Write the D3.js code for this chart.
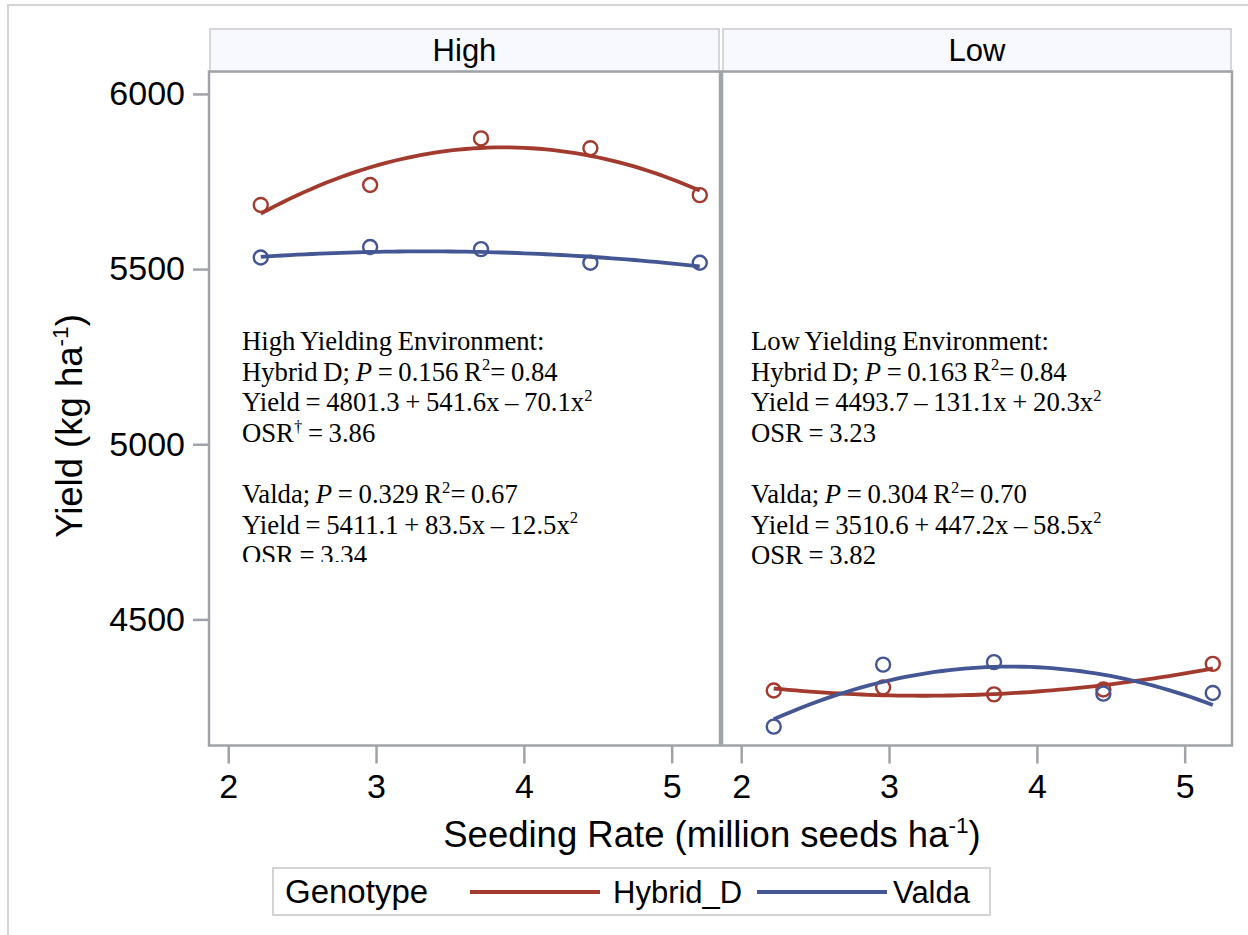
<!DOCTYPE html>
<html>
<head>
<meta charset="utf-8">
<script src="https://cdn.jsdelivr.net/npm/d3@7"></script>
<style>
  body { margin: 0; background: #fff; }
  svg { display: block; }
</style>
</head>
<body>
<svg id="chart" width="1248" height="935"></svg>
<script>
// ---- data ----
const panels = ["High", "Low"];
const genotypes = ["Hybrid_D", "Valda"];
const seedingRates = [2.22, 2.96, 3.71, 4.45, 5.19];

const highHybridYield = [5683, 5740, 5873, 5845, 5711];
const highValdaYield  = [5533, 5563, 5557, 5518, 5518];
const lowHybridYield  = [4297, 4306, 4286, 4300, 4373];
const lowValdaYield   = [4194, 4371, 4378, 4288, 4290];

// quadratic fit coefficients: yield = b0 + b1*x + b2*x^2
const highHybridFit = [4801.3, 541.6, -70.1];
const highValdaFit  = [5411.1, 83.5, -12.5];
const lowHybridFit  = [4493.7, -131.1, 20.3];
const lowValdaFit   = [3510.6, 447.2, -58.5];

const xTicks = [2, 3, 4, 5];
const yTicks = [4500, 5000, 5500, 6000];

const highNotes = [
  [{t: "High Yielding Environment:"}],
  [{t: "Hybrid D; "}, {t: "P", it: true}, {t: " = 0.156 R"}, {t: "2", sup: true}, {t: "= 0.84"}],
  [{t: "Yield = 4801.3 + 541.6x \u2013 70.1x"}, {t: "2", sup: true}],
  [{t: "OSR"}, {t: "\u2020", sup: true}, {t: " = 3.86"}],
  [],
  [{t: "Valda; "}, {t: "P", it: true}, {t: " = 0.329 R"}, {t: "2", sup: true}, {t: "= 0.67"}],
  [{t: "Yield = 5411.1 + 83.5x \u2013 12.5x"}, {t: "2", sup: true}],
  [{t: "OSR = 3.34"}]
];
const lowNotes = [
  [{t: "Low Yielding Environment:"}],
  [{t: "Hybrid D; "}, {t: "P", it: true}, {t: " = 0.163 R"}, {t: "2", sup: true}, {t: "= 0.84"}],
  [{t: "Yield = 4493.7 \u2013 131.1x + 20.3x"}, {t: "2", sup: true}],
  [{t: "OSR = 3.23"}],
  [],
  [{t: "Valda; "}, {t: "P", it: true}, {t: " = 0.304 R"}, {t: "2", sup: true}, {t: "= 0.70"}],
  [{t: "Yield = 3510.6 + 447.2x \u2013 58.5x"}, {t: "2", sup: true}],
  [{t: "OSR = 3.82"}]
];

// ---- styling ----
const colors = {Hybrid_D: "#A23A2E", Valda: "#445694"};
const axisGray = "#A0A3A8";
const sans = "'Liberation Sans', Arial, sans-serif";
const serif = "'Liberation Serif', 'Times New Roman', serif";

const svg = d3.select("#chart");

// outer frame
svg.append("path")
  .attr("d", "M8,1000 L8,5 L1300,5")
  .attr("fill", "none").attr("stroke", "#D4D4D4").attr("stroke-width", 2);

const plotTop = 71.5, plotBottom = 745.5;
const stripTop = 29;
const panelBoxes = [
  {name: "High", x0: 209, x1: 720,
   series: [{g: "Hybrid_D", y: highHybridYield, fit: highHybridFit},
            {g: "Valda", y: highValdaYield, fit: highValdaFit}],
   notes: highNotes, noteX: 242, clip: true},
  {name: "Low", x0: 722, x1: 1232,
   series: [{g: "Hybrid_D", y: lowHybridYield, fit: lowHybridFit},
            {g: "Valda", y: lowValdaYield, fit: lowValdaFit}],
   notes: lowNotes, noteX: 751, clip: false}
];

const y = d3.scaleLinear().domain([4140, 6064]).range([plotBottom, plotTop]);

// writes a line of text with optional italic and superscript runs
function richLine(textSel, parts, size) {
  let raised = false;
  parts.forEach(p => {
    const ts = textSel.append("tspan").text(p.t);
    if (p.it) ts.attr("font-style", "italic");
    if (p.sup) {
      ts.attr("font-size", size * 0.62).attr("dy", -size * 0.38);
      raised = true;
    } else if (raised) {
      ts.attr("dy", size * 0.38);
      raised = false;
    }
  });
}

const defs = svg.append("defs");
defs.append("clipPath").attr("id", "noteClip")
  .append("rect").attr("x", 209).attr("y", 300).attr("width", 510).attr("height", 262);

panelBoxes.forEach(pb => {
  const x = d3.scaleLinear().domain([1.87, 5.32]).range([pb.x0, pb.x0 + 510]);

  // strip header
  svg.append("rect")
    .attr("x", pb.x0 + 1).attr("y", stripTop)
    .attr("width", pb.x1 - pb.x0 - 2).attr("height", plotTop - stripTop)
    .attr("fill", "#F8F9FE").attr("stroke", "#D6D6D6").attr("stroke-width", 2);
  svg.append("text")
    .attr("x", (pb.x0 + pb.x1) / 2).attr("y", 61)
    .attr("text-anchor", "middle")
    .attr("font-family", sans).attr("font-size", 31)
    .text(pb.name);

  // x axis
  const gx = svg.append("g")
    .attr("transform", `translate(0,${plotBottom})`)
    .call(d3.axisBottom(x).tickValues(xTicks).tickSize(18).tickSizeOuter(0).tickPadding(10).tickFormat(d3.format("d")));
  gx.select(".domain").remove();
  gx.selectAll(".tick line").attr("stroke", axisGray).attr("stroke-width", 2.5);
  gx.selectAll(".tick text").attr("font-family", sans).attr("font-size", 34).attr("fill", "#000");

  // annotation text
  const ng = svg.append("g");
  if (pb.clip) ng.attr("clip-path", "url(#noteClip)");
  pb.notes.forEach((line, li) => {
    const t = ng.append("text")
      .attr("x", pb.noteX).attr("y", 350 + li * 30.6)
      .attr("font-family", serif).attr("font-size", 26.7).attr("fill", "#000")
      .attr("word-spacing", -1);
    richLine(t, line, 26.7);
  });

  // fit curves and observed points
  pb.series.forEach(s => {
    const lo = seedingRates[0], hi = seedingRates[seedingRates.length - 1];
    const xs = d3.range(0, 61).map(k => lo + (hi - lo) * k / 60);
    const curve = xs.map(v => [v, s.fit[0] + s.fit[1] * v + s.fit[2] * v * v]);
    svg.append("path")
      .datum(curve)
      .attr("fill", "none")
      .attr("stroke", colors[s.g])
      .attr("stroke-width", 3.8)
      .attr("d", d3.line().x(d => x(d[0])).y(d => y(d[1])));
    svg.append("g").selectAll("circle")
      .data(seedingRates.map((r, k) => [r, s.y[k]]))
      .join("circle")
      .attr("cx", d => x(d[0])).attr("cy", d => y(d[1])).attr("r", 7)
      .attr("fill", "none").attr("stroke", colors[s.g]).attr("stroke-width", 2.4);
  });

  // panel border
  svg.append("rect")
    .attr("x", pb.x0).attr("y", plotTop)
    .attr("width", pb.x1 - pb.x0).attr("height", plotBottom - plotTop)
    .attr("fill", "none").attr("stroke", axisGray).attr("stroke-width", 2.5);
});

// y axis
const gy = svg.append("g")
  .attr("transform", "translate(209,0)")
  .call(d3.axisLeft(y).tickValues(yTicks).tickSize(16).tickSizeOuter(0).tickPadding(8).tickFormat(d3.format("d")));
gy.select(".domain").remove();
gy.selectAll(".tick line").attr("stroke", axisGray).attr("stroke-width", 2.5);
gy.selectAll(".tick text").attr("font-family", sans).attr("font-size", 34).attr("fill", "#000");

// axis titles
const xt = svg.append("text")
  .attr("x", 712).attr("y", 847)
  .attr("text-anchor", "middle")
  .attr("font-family", sans).attr("font-size", 36.5);
richLine(xt, [{t: "Seeding Rate (million seeds ha"}, {t: "-1", sup: true}, {t: ")"}], 36.5);

const yt = svg.append("text")
  .attr("transform", "translate(82,426) rotate(-90)")
  .attr("text-anchor", "middle")
  .attr("font-family", sans).attr("font-size", 36.5);
richLine(yt, [{t: "Yield (kg ha"}, {t: "-1", sup: true}, {t: ")"}], 36.5);

// legend
const lg = svg.append("g");
lg.append("rect")
  .attr("x", 273).attr("y", 868).attr("width", 717).attr("height", 47)
  .attr("fill", "#fff").attr("stroke", "#D3D3D3").attr("stroke-width", 2);
lg.append("text")
  .attr("x", 285).attr("y", 903)
  .attr("font-family", sans).attr("font-size", 33)
  .text("Genotype");
const legendPos = [{lx: 470, tx: 613}, {lx: 757, tx: 893}];
genotypes.forEach((g, i) => {
  lg.append("line")
    .attr("x1", legendPos[i].lx).attr("x2", legendPos[i].lx + 130)
    .attr("y1", 892).attr("y2", 892)
    .attr("stroke", colors[g]).attr("stroke-width", 4);
  lg.append("text")
    .attr("x", legendPos[i].tx).attr("y", 903)
    .attr("font-family", sans).attr("font-size", 31)
    .text(g);
});
</script>
</body>
</html>
